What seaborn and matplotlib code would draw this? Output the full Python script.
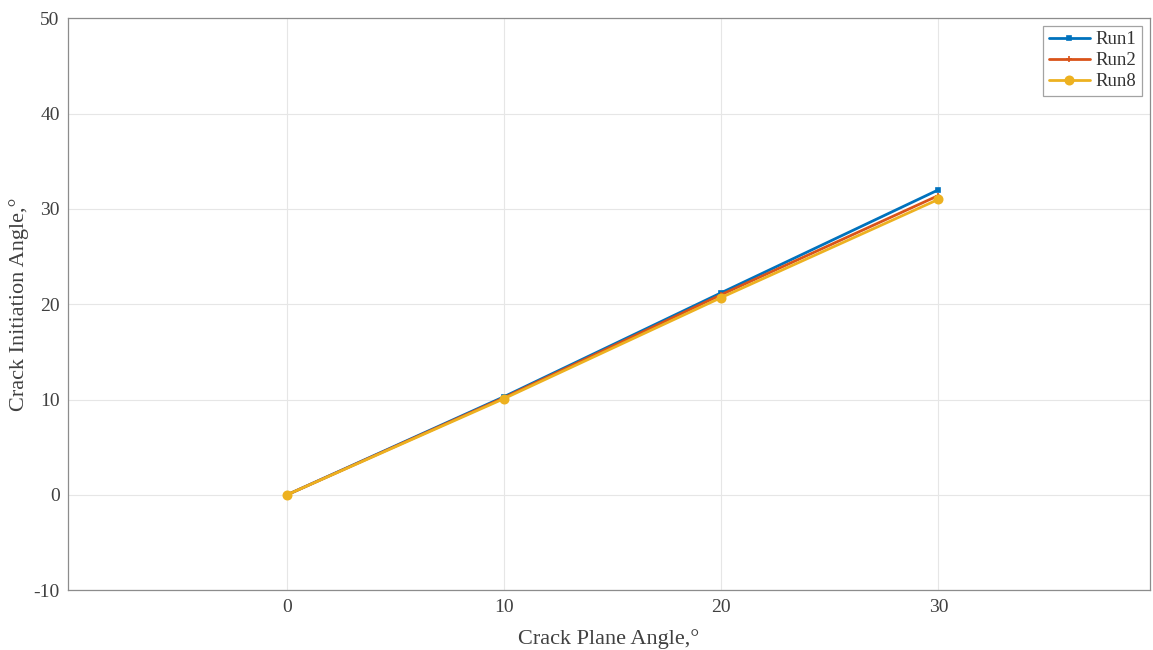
import matplotlib
matplotlib.use("Agg")
import matplotlib.pyplot as plt
import seaborn as sns
import pandas as pd

x_angles = [0, 10, 20, 30]
run1 = [0, 10.3, 21.2, 32.0]
run2 = [0, 10.2, 21.0, 31.4]
run8 = [0, 10.1, 20.7, 31.0]
series_names = ["Run1", "Run2", "Run8"]

df = pd.DataFrame({
    "x": x_angles * 3,
    "y": run1 + run2 + run8,
    "run": [series_names[0]] * 4 + [series_names[1]] * 4 + [series_names[2]] * 4,
})

sns.set_theme(style="white")
plt.rcParams['font.family'] = ['Liberation Serif', 'DejaVu Serif']
plt.rcParams['axes.unicode_minus'] = False

fig = plt.figure(figsize=(11.53, 6.5), dpi=100)
ax = fig.add_axes([0.059, 0.092, 0.938, 0.880])

palette = {"Run1": "#0072BD", "Run2": "#D95319", "Run8": "#EDB120"}
markers = {"Run1": "s", "Run2": "+", "Run8": "o"}
sizes = {"Run1": 3.5, "Run2": 5, "Run8": 6}
for name in series_names:
    sub = df[df["run"] == name]
    sns.lineplot(data=sub, x="x", y="y", ax=ax, color=palette[name], marker=markers[name],
                 markersize=sizes[name], linewidth=2.0, label=name,
                 markeredgecolor=palette[name], markeredgewidth=1.2)

ax.set_xlim(-10.08, 39.72)
ax.set_ylim(-10, 50)
ax.set_xticks([0, 10, 20, 30])
ax.set_yticks([-10, 0, 10, 20, 30, 40, 50])
ax.grid(True, color="#e6e6e6", linewidth=0.8)
for s in ax.spines.values():
    s.set_color("#8c8c8c")
    s.set_linewidth(0.9)
ax.tick_params(axis="both", labelsize=14, length=0, pad=6, labelcolor="#404040")
ax.set_xlabel("Crack Plane Angle,°", fontsize=16, color="#404040", labelpad=10)
ax.set_ylabel("Crack Initiation Angle,°", fontsize=16, color="#404040", labelpad=3)

leg = ax.legend(loc="upper right", fontsize=13.5, frameon=True, fancybox=False,
                borderpad=0.3, handlelength=2.2, handletextpad=0.3, labelspacing=0.2,
                borderaxespad=0.4)
leg.get_frame().set_edgecolor("#8c8c8c")
leg.get_frame().set_linewidth(0.9)
for t in leg.get_texts():
    t.set_color("#333333")

fig.savefig("out.png", dpi=100)
